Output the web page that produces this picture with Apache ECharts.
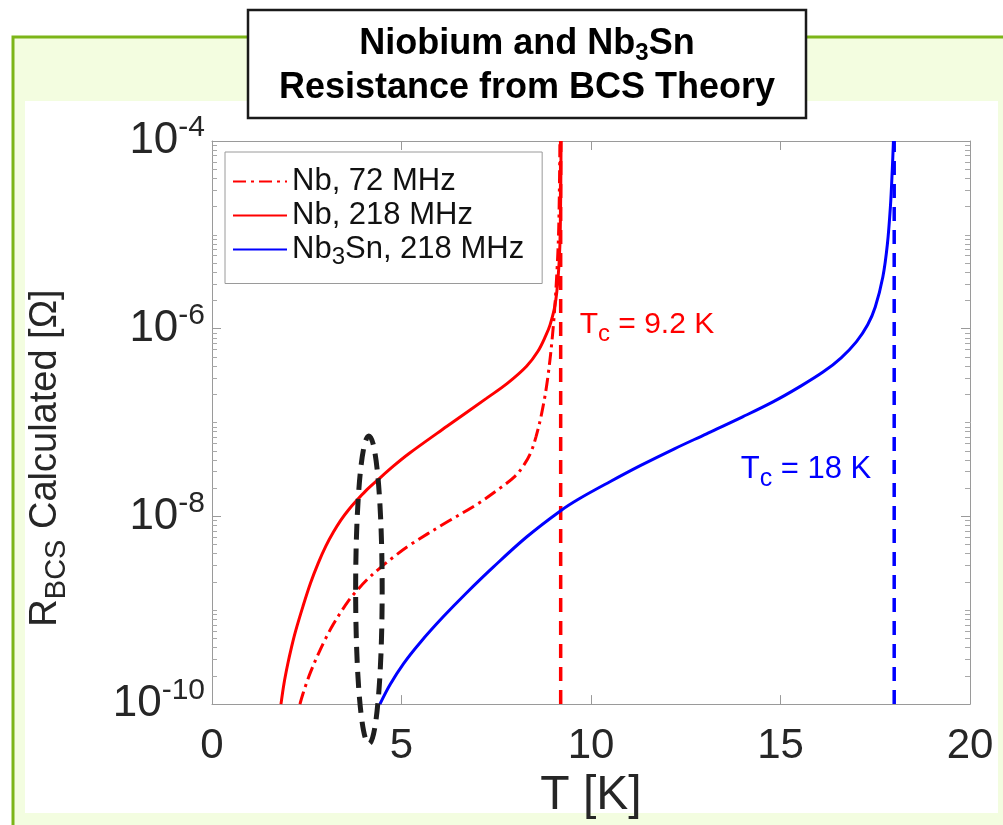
<!DOCTYPE html>
<html>
<head>
<meta charset="utf-8">
<script src="https://cdn.jsdelivr.net/npm/echarts@6/dist/echarts.min.js"></script>
<style>
html,body{margin:0;padding:0;background:#ffffff;}
#c{width:1003px;height:825px;}
</style>
</head>
<body>
<div id="c"></div>
<script>
// ---- data ----
const seriesNames = ['Nb, 72 MHz', 'Nb, 218 MHz', 'Nb3Sn, 218 MHz'];

const T_nb72 = [2.32, 2.4, 2.5, 2.6, 2.8, 3.0, 3.2, 3.4, 3.6, 3.8, 4.1, 4.4, 4.8, 5.2, 6.2, 7.0, 7.6, 8.0, 8.2, 8.4, 8.55, 8.7, 8.85, 9.0, 9.1, 9.15, 9.18];
const R_nb72 = [1.0e-10, 1.29e-10, 1.70e-10, 2.19e-10, 3.39e-10, 5.01e-10, 7.08e-10, 9.55e-10, 1.26e-9, 1.58e-9, 2.14e-9, 2.75e-9, 3.72e-9, 4.90e-9, 8.71e-9, 1.35e-8, 2.00e-8, 2.69e-8, 3.39e-8, 4.68e-8, 7.08e-8, 1.26e-7, 2.82e-7, 1.0e-6, 3.98e-6, 1.26e-5, 1.0e-4];

const T_nb218 = [1.82, 1.9, 2.0, 2.1, 2.2, 2.4, 2.6, 2.8, 3.0, 3.2, 3.4, 3.6, 3.8, 4.05, 4.35, 4.8, 5.2, 6.2, 7.25, 7.8, 8.3, 8.6, 8.8, 8.92, 9.05, 9.13, 9.18, 9.2, 9.21];
const R_nb218 = [1.0e-10, 1.66e-10, 2.69e-10, 4.07e-10, 5.89e-10, 1.10e-9, 1.95e-9, 3.16e-9, 4.79e-9, 6.76e-9, 9.12e-9, 1.17e-8, 1.45e-8, 1.86e-8, 2.40e-8, 3.47e-8, 4.68e-8, 9.12e-8, 1.82e-7, 2.63e-7, 3.98e-7, 5.75e-7, 8.32e-7, 1.10e-6, 1.78e-6, 3.39e-6, 7.94e-6, 2.51e-5, 1.0e-4];

const T_nb3sn = [4.43, 4.7, 5.05, 5.5, 6.1, 6.7, 7.42, 8.3, 9.2, 9.7, 10.5, 11.3, 12.2, 13.05, 14.0, 14.8, 15.5, 16.13, 16.6, 17.0, 17.3, 17.5, 17.7, 17.82, 17.9, 17.95, 17.98];
const R_nb3sn = [1.0e-10, 1.62e-10, 2.69e-10, 4.57e-10, 8.51e-10, 1.51e-9, 2.88e-9, 6.03e-9, 1.15e-8, 1.55e-8, 2.34e-8, 3.47e-8, 5.25e-8, 7.59e-8, 1.15e-7, 1.66e-7, 2.40e-7, 3.47e-7, 4.90e-7, 7.24e-7, 1.10e-6, 1.70e-6, 3.55e-6, 7.94e-6, 2.0e-5, 5.01e-5, 1.0e-4];

const Tc_nb = 9.2;
const Tc_nb3sn = 18;

const xTicks = [0, 5, 10, 15, 20];
const yMajorTicks = [1e-10, 1e-8, 1e-6, 1e-4];
const yMajorExp = ['-10', '-8', '-6', '-4'];
const yMinorTicks = [];
for (let n = -10; n < -4; n++) { for (let k = 1; k <= 9; k++) { const v = k * Math.pow(10, n); if (!(k === 1 && n % 2 === 0)) yMinorTicks.push(v); } }

// annotations (data coordinates)
const tcLabelNb = { T: 9.7, R: 1.1e-6, text: 'T{sub|c} = 9.2 K' };
const tcLabelSn = { T: 13.95, R: 3.2e-8, text: 'T{sub|c} = 18 K' };
const ellipseCenter = { T: 4.14, R: 1.65e-9 };
const ellipseTop = 7.2e-8;
const ellipseHalfWidthT = 0.35;

// ---- chart ----
const FONT = "'Liberation Sans', Arial, Helvetica, sans-serif";
const chart = echarts.init(document.getElementById('c'), null, { renderer: 'canvas' });

const pairs = (T, R) => T.map((t, i) => [t, R[i]]);

const supRich = {
  base: { fontSize: 44, fontFamily: FONT, color: '#262626' },
  sup: { fontSize: 30, fontFamily: FONT, color: '#262626', padding: [0, 0, 26, 0] }
};

const lineSeries = (name, data, color, type) => ({
  name, type: 'line', data, showSymbol: false, symbol: 'none',
  smooth: 0.35, color,
  itemStyle: { color, opacity: 0 },
  lineStyle: { color, width: 3, type }, z: 5
});

const option = {
  animation: false,
  backgroundColor: '#ffffff',
  graphic: [
    { id: 'bgGreen', type: 'rect', z: -10, shape: { x: 13, y: 37, width: 1010, height: 800 }, style: { fill: '#f3fde0', stroke: '#7cb518', lineWidth: 3 } },
    { id: 'bgWhite', type: 'rect', z: -9, shape: { x: 25, y: 101, width: 973, height: 712 }, style: { fill: '#ffffff' } },
    { id: 'titleBox', type: 'rect', z: 50, shape: { x: 248, y: 10, width: 558, height: 108 }, style: { fill: '#ffffff', stroke: '#1a1a1a', lineWidth: 2.5 } },
    { id: 'title1', type: 'text', z: 51, x: 527, y: 44, style: { text: 'Niobium and Nb{sub|3}Sn', align: 'center', verticalAlign: 'middle', font: "bold 36px " + FONT, fill: '#000', rich: { sub: { fontSize: 24, fontWeight: 'bold', fontFamily: FONT, padding: [18, 0, 0, 0] } } } },
    { id: 'title2', type: 'text', z: 51, x: 527, y: 88, style: { text: 'Resistance from BCS Theory', align: 'center', verticalAlign: 'middle', font: "bold 36px " + FONT, fill: '#000' } },
    { id: 'yName', type: 'text', z: 51, x: 46, y: 458, rotation: Math.PI / 2,
      style: { text: 'R{sub|BCS} Calculated [Ω]', align: 'center', verticalAlign: 'middle', font: '38px ' + FONT, fill: '#262626',
        rich: { sub: { fontSize: 29, fontFamily: FONT, fill: '#262626', padding: [22, 0, 0, 0] } } } }
  ],
  grid: { left: 212, right: 33, top: 141, bottom: 120, show: false },
  legend: {
    left: 225, top: 152, orient: 'vertical',
    data: seriesNames,
    itemWidth: 54, itemHeight: 14, itemGap: 3,
    padding: [14, 18, 14, 7],
    borderColor: '#9a9a9a', borderWidth: 1, borderRadius: 0,
    backgroundColor: '#ffffff',
    itemStyle: { opacity: 0 },
    textStyle: { fontSize: 31, fontFamily: FONT, color: '#111', lineHeight: 30,
      rich: { sub: { fontSize: 24, fontFamily: FONT, color: '#111', padding: [16, 0, 0, 0] } } },
    formatter: n => n.replace('Nb3Sn', 'Nb{sub|3}Sn')
  },
  xAxis: [
    { type: 'value', min: 0, max: 20, interval: 5, position: 'bottom',
      name: 'T [K]', nameLocation: 'middle', nameGap: 62,
      nameTextStyle: { fontSize: 48, fontFamily: FONT, color: '#262626' },
      axisLine: { show: true, lineStyle: { color: '#9a9a9a', width: 1 } },
      axisTick: { show: true, inside: true, length: 9, lineStyle: { color: '#9a9a9a' }, customValues: xTicks },
      axisLabel: { margin: 21, fontSize: 42, fontFamily: FONT, color: '#262626', customValues: xTicks },
      splitLine: { show: false } },
    { type: 'value', min: 0, max: 20, interval: 5, position: 'top',
      axisLine: { show: true, lineStyle: { color: '#9a9a9a', width: 1 } },
      axisTick: { show: true, inside: true, length: 9, lineStyle: { color: '#9a9a9a' }, customValues: xTicks },
      axisLabel: { show: false }, splitLine: { show: false } }
  ],
  yAxis: [
    { type: 'log', logBase: 10, min: 1e-10, max: 1e-4, position: 'left',
      axisLine: { show: true, lineStyle: { color: '#9a9a9a', width: 1 } },
      axisTick: { show: true, inside: true, length: 9, lineStyle: { color: '#9a9a9a' }, customValues: yMajorTicks },
      axisLabel: { margin: 7, customValues: yMajorTicks, rich: supRich,
        formatter: v => { const i = yMajorTicks.findIndex(t => Math.abs(Math.log10(t) - Math.log10(v)) < 1e-6); return '{base|10}{sup|' + yMajorExp[i] + '}'; } },
      splitLine: { show: false } },
    { type: 'log', logBase: 10, min: 1e-10, max: 1e-4, position: 'left',
      axisLine: { show: false },
      axisTick: { show: true, inside: true, length: 5, lineStyle: { color: '#a8a8a8' }, customValues: yMinorTicks },
      axisLabel: { show: false }, splitLine: { show: false } },
    { type: 'log', logBase: 10, min: 1e-10, max: 1e-4, position: 'right',
      axisLine: { show: true, lineStyle: { color: '#9a9a9a', width: 1 } },
      axisTick: { show: true, inside: true, length: 9, lineStyle: { color: '#9a9a9a' }, customValues: yMajorTicks },
      axisLabel: { show: false }, splitLine: { show: false } },
    { type: 'log', logBase: 10, min: 1e-10, max: 1e-4, position: 'right',
      axisLine: { show: false },
      axisTick: { show: true, inside: true, length: 5, lineStyle: { color: '#a8a8a8' }, customValues: yMinorTicks },
      axisLabel: { show: false }, splitLine: { show: false } }
  ],
  series: [
    lineSeries(seriesNames[0], pairs(T_nb72, R_nb72), '#ff0000', [13, 5, 3, 5]),
    lineSeries(seriesNames[1], pairs(T_nb218, R_nb218), '#ff0000', 'solid'),
    lineSeries(seriesNames[2], pairs(T_nb3sn, R_nb3sn), '#0000ff', 'solid'),
    { name: 'Tc Nb', type: 'line', data: [[Tc_nb, 1e-10], [Tc_nb, 1e-4]], showSymbol: false, symbol: 'none',
      lineStyle: { color: '#ff0000', width: 3.5, type: [14, 9] }, z: 4 },
    { name: 'Tc Nb3Sn', type: 'line', data: [[Tc_nb3sn, 1e-10], [Tc_nb3sn, 1e-4]], showSymbol: false, symbol: 'none',
      lineStyle: { color: '#0000ff', width: 3.5, type: [14, 9] }, z: 4 }
  ]
};
chart.setOption(option);

// annotations placed through the chart's own coordinate conversion
const px = (T, R) => chart.convertToPixel({ gridIndex: 0 }, [T, R]);
const pNb = px(tcLabelNb.T, tcLabelNb.R);
const pSn = px(tcLabelSn.T, tcLabelSn.R);
const pc = px(ellipseCenter.T, ellipseCenter.R);
const pt = px(ellipseCenter.T, ellipseTop);
const pw = px(ellipseCenter.T + ellipseHalfWidthT, ellipseCenter.R);
chart.setOption({
  graphic: [
    { id: 'tcNb', type: 'text', z: 60, x: pNb[0], y: pNb[1], style: { text: tcLabelNb.text, align: 'left', verticalAlign: 'middle', font: '30px ' + FONT, fill: '#ff0000',
      rich: { sub: { fontSize: 24, fontFamily: FONT, fill: '#ff0000', padding: [20, 0, 0, 0] } } } },
    { id: 'tcSn', type: 'text', z: 60, x: pSn[0], y: pSn[1], style: { text: tcLabelSn.text, align: 'left', verticalAlign: 'middle', font: '31px ' + FONT, fill: '#0000ff',
      rich: { sub: { fontSize: 25, fontFamily: FONT, fill: '#0000ff', padding: [20, 0, 0, 0] } } } },
    { id: 'ellipse', type: 'ellipse', z: 70, shape: { cx: pc[0], cy: pc[1], rx: pw[0] - pc[0], ry: pc[1] - pt[1] },
      style: { fill: 'none', stroke: '#1e1e1e', lineWidth: 5, lineDash: [16, 9] } }
  ]
});
</script>
</body>
</html>
